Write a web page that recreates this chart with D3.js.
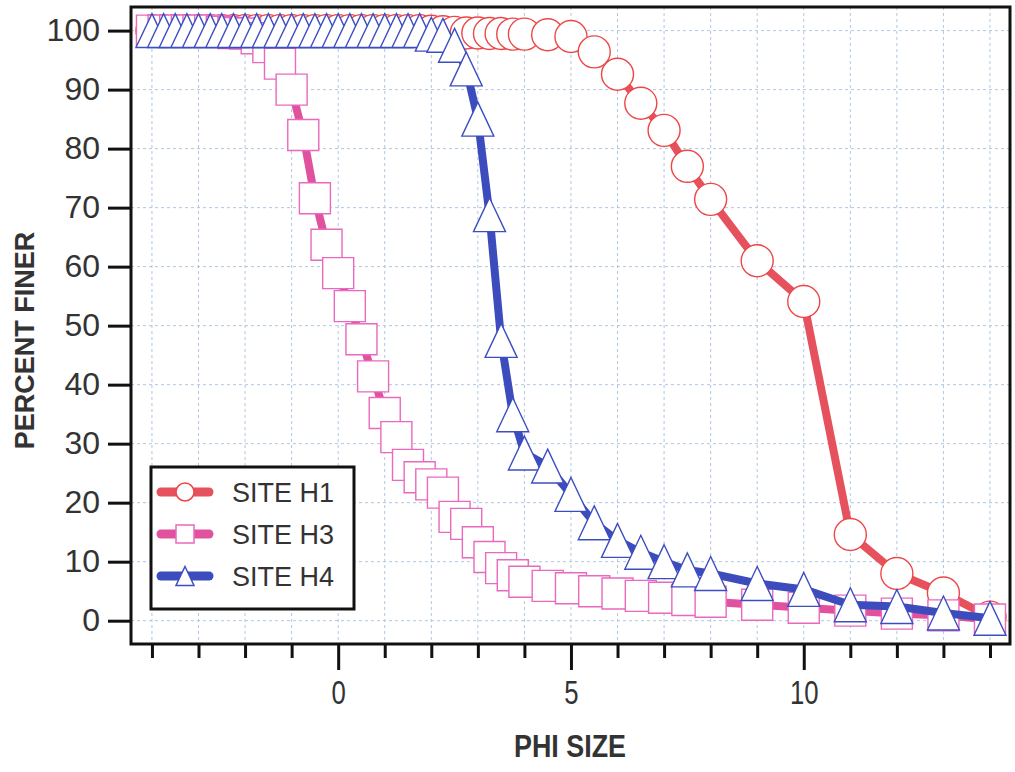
<!DOCTYPE html>
<html>
<head>
<meta charset="utf-8">
<script src="https://cdn.jsdelivr.net/npm/d3@7"></script>
<style>
body { margin: 0; background: #fff; }
svg text { font-family: "Liberation Sans", Arial, sans-serif; fill: #333; }
</style>
</head>
<body>
<div class="chart"></div>
<script>
// phi size classes (sieve steps)
var phi = [-4, -3.75, -3.5, -3.25, -3, -2.75, -2.5, -2.25, -2, -1.75, -1.5, -1.25,
    -1, -0.75, -0.5, -0.25, 0, 0.25, 0.5, 0.75, 1, 1.25, 1.5, 1.75,
    2, 2.25, 2.5, 2.75, 3, 3.25, 3.5, 3.75, 4,
    4.5, 5, 5.5, 6, 6.5, 7, 7.5, 8,
    9, 10, 11, 12, 13, 14];

// percent finer per site
var siteH1 = [100, 100, 100, 100, 100, 100, 100, 100, 100, 100, 100, 100,
    100, 100, 100, 100, 100, 100, 100, 100, 100, 100, 100, 100,
    99.9, 99.8, 99.7, 99.6, 99.6, 99.5, 99.5, 99.4, 99.4,
    99.3, 99.0, 96.4, 92.6, 87.7, 83.1, 77.0, 71.4,
    61.0, 54.1, 14.6, 8.0, 4.7, 0.6];

var siteH3 = [100, 100, 100, 100, 100, 100, 99.8, 99.6, 99.5, 98.7, 97.2, 94.4,
    90.0, 82.3, 71.6, 63.7, 58.9, 53.3, 47.7, 41.4, 35.2, 31.1, 26.4, 24.3,
    23.1, 21.7, 17.6, 16.4, 13.3, 10.8, 8.9, 7.7, 6.6,
    5.9, 5.5, 5.0, 4.6, 4.2, 3.9, 3.5, 3.2,
    2.7, 2.2, 1.7, 1.2, 0.9, 0.2];

var siteH4 = [100, 100, 100, 100, 100, 100, 100, 100, 100, 100, 100, 100,
    100, 100, 100, 100, 100, 100, 100, 100, 100, 100, 100, 100,
    99.4, 99.2, 97.5, 93.5, 85.0, 68.8, 47.5, 34.9, 28.4,
    26.2, 21.4, 16.6, 13.6, 11.6, 10.0, 8.6, 8.0,
    6.3, 5.3, 2.7, 2.4, 1.3, 0.4];

var yTicks = [0, 10, 20, 30, 40, 50, 60, 70, 80, 90, 100];
var xTicks = [-4, -3, -2, -1, 0, 1, 2, 3, 4, 5, 6, 7, 8, 9, 10, 11, 12, 13, 14];
var xLabelTicks = [0, 5, 10];
var siteNames = ["SITE H1", "SITE H3", "SITE H4"];

var width = 1015, height = 772;
var margin = {top: 7, right: 5, bottom: 128, left: 131};

var x = d3.scaleLinear().domain([-4.45, 14.43]).range([margin.left, width - margin.right]);
var y = d3.scaleLinear().domain([-3.95, 104]).range([height - margin.bottom, margin.top]);

var svg = d3.select(".chart").append("svg")
    .attr("width", width)
    .attr("height", height);

// dotted grid
var grid = svg.append("g").attr("class", "grid")
    .attr("stroke", "#afc7e0")
    .attr("stroke-width", 1)
    .attr("stroke-dasharray", "3,3");
grid.selectAll(".vline").data(xTicks).enter().append("line")
    .attr("x1", function (d) { return x(d); })
    .attr("x2", function (d) { return x(d); })
    .attr("y1", y.range()[1])
    .attr("y2", y.range()[0]);
grid.selectAll(".hline").data(yTicks).enter().append("line")
    .attr("x1", x.range()[0])
    .attr("x2", x.range()[1])
    .attr("y1", function (d) { return y(d); })
    .attr("y2", function (d) { return y(d); });

var series = [
    {name: siteNames[0], values: siteH1, line: "#e5525d", mark: "#ee4646", shape: "circle", size: 32},
    {name: siteNames[1], values: siteH3, line: "#e0519e", mark: "#ea68bd", shape: "square", size: 31},
    {name: siteNames[2], values: siteH4, line: "#3c4cbc", mark: "#3d4ec3", shape: "triangle", size: 32}
];

function markerPath(shape, s) {
    var h = s / 2;
    if (shape == "circle") {
        return "M" + (-h) + ",0A" + h + "," + h + " 0 1,0 " + h + ",0A" + h + "," + h + " 0 1,0 " + (-h) + ",0Z";
    }
    if (shape == "square") {
        return "M" + (-h) + "," + (-h) + "H" + h + "V" + h + "H" + (-h) + "Z";
    }
    var th = s * 1.06 / 2;
    return "M0," + (-th) + "L" + h + "," + th + "H" + (-h) + "Z";
}

var line = d3.line()
    .x(function (d) { return x(d[0]); })
    .y(function (d) { return y(d[1]); });

series.forEach(function (s) {
    var pts = phi.map(function (p, i) { return [p, s.values[i]]; });
    var g = svg.append("g").attr("class", "series");
    g.append("path")
        .datum(pts)
        .attr("fill", "none")
        .attr("stroke", s.line)
        .attr("stroke-width", 8)
        .attr("stroke-linejoin", "round")
        .attr("d", line);
    g.selectAll(".mark")
        .data(pts)
        .enter().append("path")
        .attr("class", "mark")
        .attr("transform", function (d) { return "translate(" + x(d[0]) + "," + y(d[1]) + ")"; })
        .attr("d", markerPath(s.shape, s.size))
        .attr("fill", "#fff")
        .attr("stroke", s.mark)
        .attr("stroke-width", 1.4);
});

// frame
svg.append("rect")
    .attr("x", x.range()[0])
    .attr("y", y.range()[1])
    .attr("width", x.range()[1] - x.range()[0])
    .attr("height", y.range()[0] - y.range()[1])
    .attr("fill", "none")
    .attr("stroke", "#111")
    .attr("stroke-width", 3);

// y axis
var yAxis = svg.append("g")
    .attr("transform", "translate(" + x.range()[0] + ",0)")
    .call(d3.axisLeft(y).tickValues(yTicks).tickSize(23).tickPadding(8));
yAxis.select(".domain").remove();
yAxis.selectAll(".tick line").attr("stroke", "#111").attr("stroke-width", 3);
yAxis.selectAll(".tick text")
    .style("font-size", "32px")
    .style("font-family", "'Liberation Sans', Arial, sans-serif")
    .attr("fill", "#333");

// x axis
var xAxis = svg.append("g")
    .attr("transform", "translate(0," + y.range()[0] + ")")
    .call(d3.axisBottom(x).tickValues(xTicks).tickSize(14)
        .tickFormat(function (d) { return xLabelTicks.indexOf(d) >= 0 ? d : ""; }));
xAxis.select(".domain").remove();
xAxis.selectAll(".tick line")
    .attr("stroke", "#111").attr("stroke-width", 3)
    .attr("y2", function (d) { return xLabelTicks.indexOf(d) >= 0 ? 26 : 14; });
xAxis.selectAll(".tick text")
    .attr("y", 37)
    .attr("transform", "scale(0.78,1)")
    .style("font-size", "33px")
    .style("font-family", "'Liberation Sans', Arial, sans-serif")
    .attr("fill", "#333");

// axis titles
svg.append("text")
    .attr("transform", "translate(" + (x(5) - 1) + ",757) scale(0.84,1)")
    .attr("text-anchor", "middle")
    .style("font-size", "32px")
    .style("font-weight", "bold")
    .text("PHI SIZE");

svg.append("text")
    .attr("transform", "translate(34," + y(47.5) + ") rotate(-90)")
    .attr("text-anchor", "middle")
    .style("font-size", "27px")
    .style("font-weight", "bold")
    .text("PERCENT FINER");

// legend
var legend = svg.append("g").attr("class", "legend");
legend.append("rect")
    .attr("x", 151).attr("y", 467)
    .attr("width", 203).attr("height", 142)
    .attr("fill", "#fff")
    .attr("stroke", "#111")
    .attr("stroke-width", 3);
var item = legend.selectAll(".item")
    .data(series)
    .enter().append("g")
    .attr("class", "item")
    .attr("transform", function (d, i) { return "translate(0," + (492 + i * 42) + ")"; });
item.append("line")
    .attr("x1", 161).attr("x2", 209)
    .attr("stroke", function (d) { return d.line; })
    .attr("stroke-width", 9)
    .attr("stroke-linecap", "round");
item.append("path")
    .attr("transform", "translate(185,0)")
    .attr("d", function (d) { return markerPath(d.shape, 18); })
    .attr("fill", "#fff")
    .attr("stroke", function (d) { return d.mark; })
    .attr("stroke-width", 1.5);
item.append("text")
    .attr("x", 232)
    .attr("dy", "0.36em")
    .style("font-size", "27px")
    .text(function (d) { return d.name; });
</script>
</body>
</html>
